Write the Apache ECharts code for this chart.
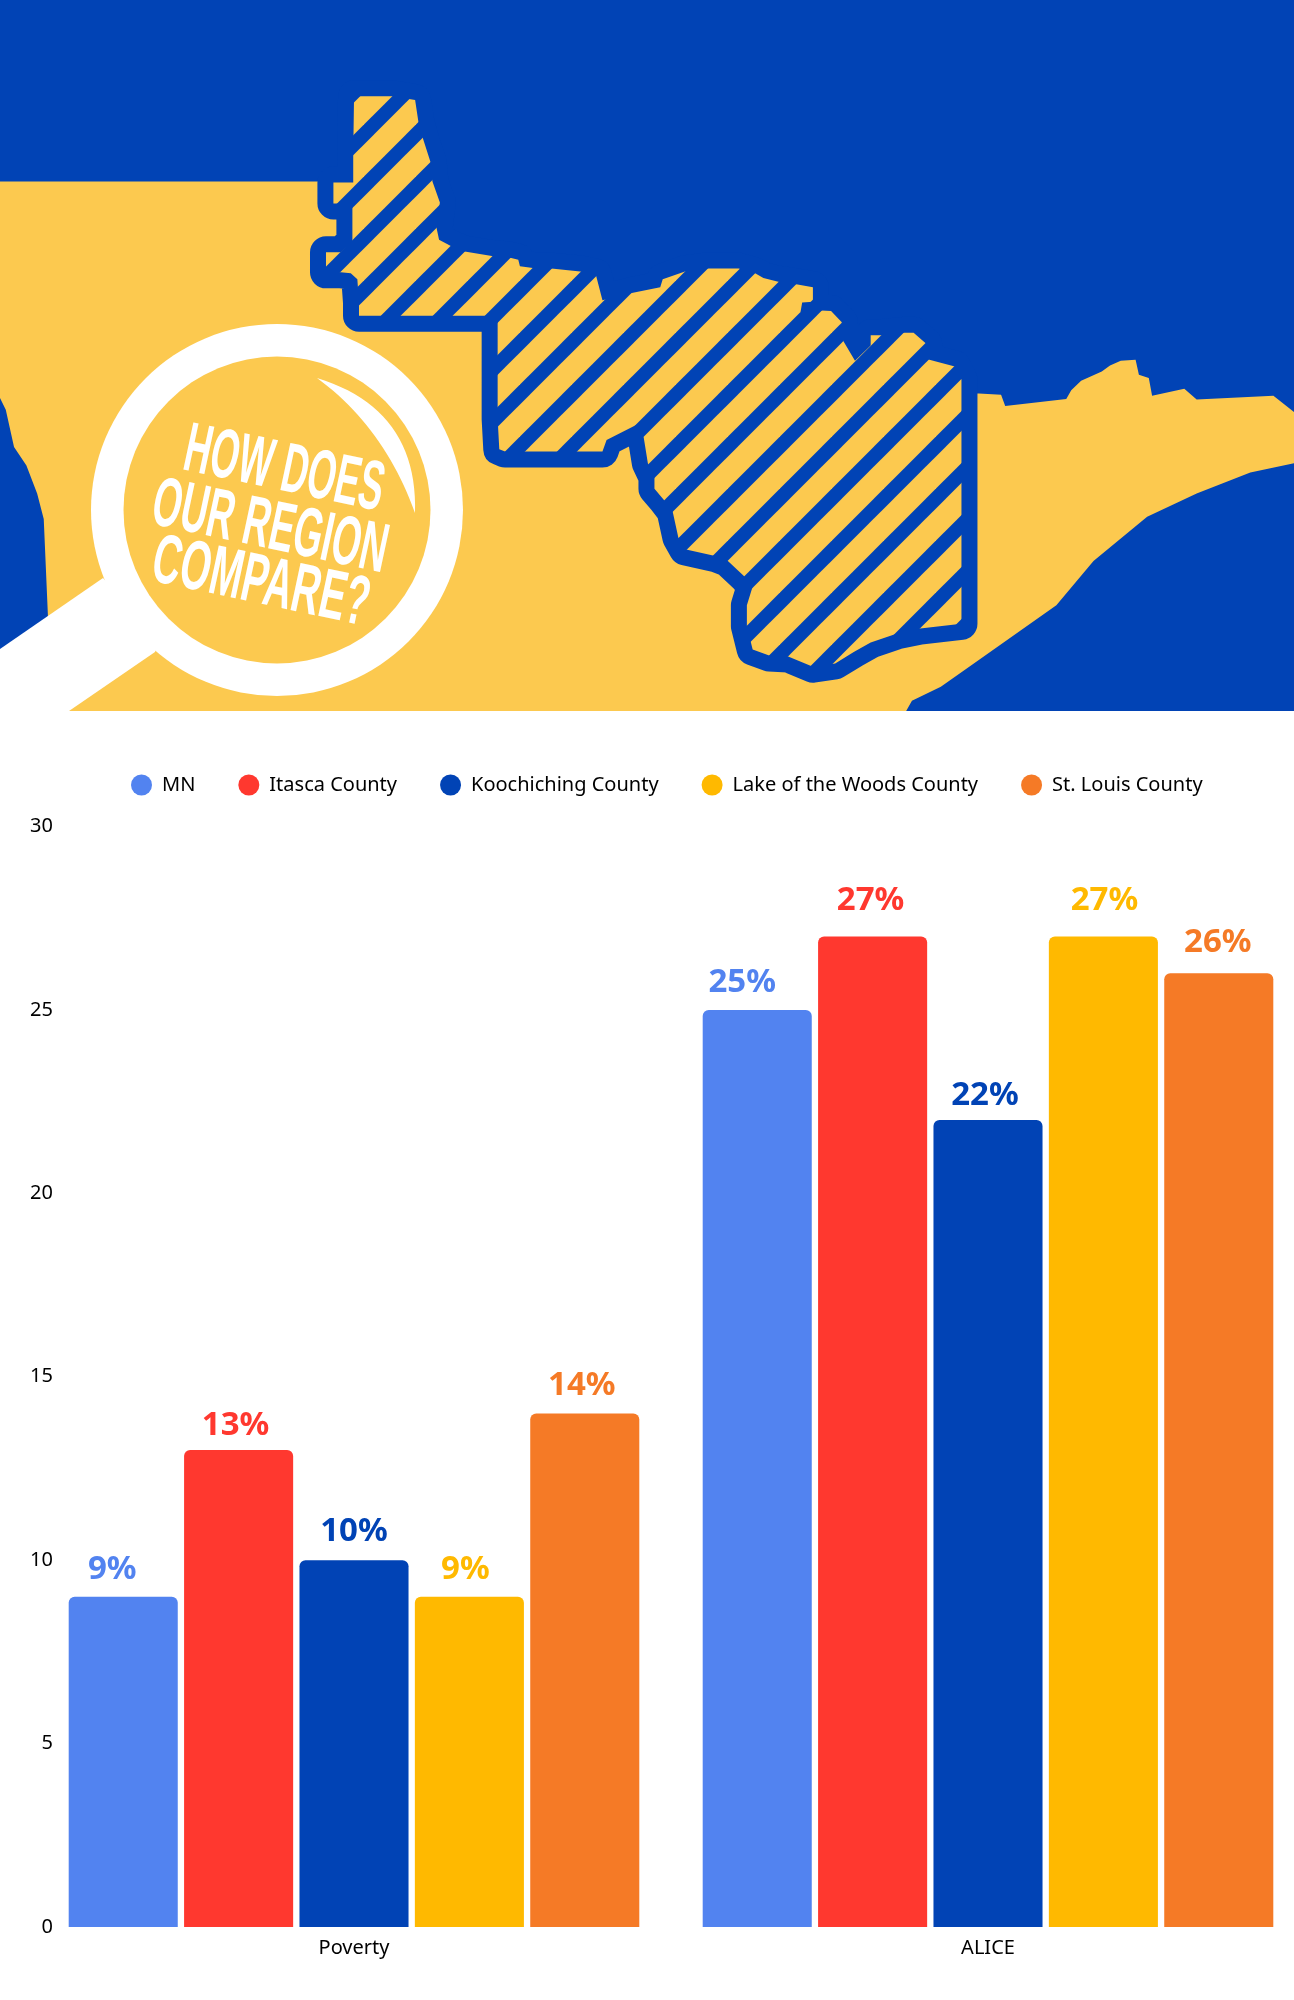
<!DOCTYPE html>
<html>
<head>
<meta charset="utf-8">
<title>How does our region compare?</title>
<script src="https://cdn.jsdelivr.net/npm/echarts@6/dist/echarts.min.js"></script>
<style>
  html, body { margin: 0; background: #fff; }
  #chart { width: 1294px; height: 2000px; }
</style>
</head>
<body>
<div id="chart"></div>
<script>
// chart data
const categories = ['Poverty', 'ALICE'];
const seriesNames = ['MN', 'Itasca County', 'Koochiching County', 'Lake of the Woods County', 'St. Louis County'];
const mnValues = [9, 25];
const itascaValues = [13, 27];
const koochichingValues = [10, 22];
const lakeValues = [9, 27];
const stLouisValues = [14, 26];
const yTicks = [0, 5, 10, 15, 20, 25, 30];

const seriesColors = ['#5283F0', '#FF382F', '#0143B5', '#FFB900', '#F57A26'];
const BLUE = '#0143B5';
const SAND = '#FCC94F';
const FONT = '"Noto Sans", sans-serif';

// labels in the picture sit a bit off-centre, hand placed: [dx, dy] per category
const labelNudge = [
  [[-11, 0], [-15, 0]],
  [[-3, 3], [-2, -8]],
  [[0, -1], [-3, 3]],
  [[-4, 0], [1, -8]],
  [[-3, 0], [-1, -3]]
];

// banner outlines, traced on a 1568x1568 crop of the top 730px
const landOutline = [
  [0, 390], [400, 390], [410, 400], [500, 640], [1100, 800], [1170, 845], [1186, 845], [1213, 848], [1218, 872],
  [1292, 857], [1298, 838], [1310, 818], [1335, 798], [1345, 785], [1358, 775], [1376, 773], [1380, 805],
  [1392, 812], [1396, 850], [1435, 835], [1450, 858], [1543, 850], [1568, 885], [1568, 995], [1515, 1015],
  [1450, 1060], [1390, 1110], [1325, 1205], [1280, 1300], [1180, 1425], [1140, 1475], [1105, 1505], [1098, 1527],
  [58, 1527], [58, 1320], [53, 1115], [45, 1060], [32, 1000], [17, 960], [7, 880], [0, 855]
];
const countyOutline = [
  [429, 207], [475, 207], [503, 215], [507, 262], [512, 295], [522, 350], [524, 390], [533, 435], [529, 490],
  [532, 515], [548, 530], [563, 540], [596, 550], [617, 553], [628, 558], [630, 572], [648, 576], [668, 577],
  [703, 583], [722, 590], [730, 645], [764, 630], [800, 617], [803, 600], [830, 583], [855, 577], [895, 577],
  [915, 587], [925, 597], [943, 605], [963, 610], [985, 617], [985, 648], [972, 650], [970, 670], [995, 667],
  [1007, 668], [1020, 692], [1022, 733], [1036, 775], [1055, 742], [1055, 720], [1067, 720], [1095, 715],
  [1107, 715], [1122, 738], [1125, 772], [1157, 787], [1165, 815], [1165, 1340], [1115, 1350], [1088, 1360],
  [1055, 1380], [1035, 1400], [1012, 1425], [985, 1432], [955, 1410], [932, 1408], [912, 1395], [905, 1345],
  [905, 1300], [912, 1260], [903, 1240], [882, 1205], [868, 1195], [830, 1180], [822, 1155], [815, 1098],
  [805, 1075], [793, 1050], [793, 1025], [785, 995], [780, 940], [772, 912], [735, 945], [730, 970], [612, 970],
  [605, 965], [603, 900], [603, 690], [590, 678], [435, 678], [435, 650], [433, 600], [425, 587], [413, 585],
  [395, 585], [395, 542], [413, 542], [427, 520], [427, 437], [404, 437], [404, 392], [428, 392], [428, 330]
];
const traced = pts => pts.map(([x, y]) => [x / 1.2117, y / 2.148]);

// headline lines: text, left-middle anchor, horizontal squeeze
const headlineLines = [
  ['HOW DOES', 185, 450, 0.52],
  ['OUR REGION', 153, 504, 0.529],
  ['COMPARE?', 153, 561, 0.557]
];

// 45 degree stripes for the county
const makeStripes = () => {
  const size = 52;
  const tile = document.createElement('canvas');
  tile.width = size;
  tile.height = size;
  const ctx = tile.getContext('2d');
  ctx.fillStyle = SAND;
  ctx.fillRect(0, 0, size, size);
  ctx.strokeStyle = BLUE;
  ctx.lineWidth = 14;
  for (let k = -2; k < 5; k++) {
    const c = 30.5 + size * k;
    ctx.beginPath();
    ctx.moveTo(c + 3 * size, -3 * size);
    ctx.lineTo(c - 3 * size, 3 * size);
    ctx.stroke();
  }
  return tile;
};

// crescent highlight of the lens, two quadratic curves
const quad = (a, c, b, t) => [
  (1 - t) * (1 - t) * a[0] + 2 * t * (1 - t) * c[0] + t * t * b[0],
  (1 - t) * (1 - t) * a[1] + 2 * t * (1 - t) * c[1] + t * t * b[1]
];
const makeCrescent = () => {
  const start = [317, 378];
  const tip = [415, 513];
  const points = [];
  for (let i = 0; i <= 24; i++) points.push(quad(start, [418, 409], tip, i / 24));
  for (let i = 24; i >= 0; i--) points.push(quad(start, [384, 427], tip, i / 24));
  return points;
};

const bannerGraphics = [
  { type: 'rect', shape: { x: 0, y: 0, width: 1294, height: 711 }, style: { fill: BLUE } },
  { type: 'polygon', shape: { points: traced(landOutline) }, style: { fill: SAND } },
  {
    type: 'polygon',
    shape: { points: traced(countyOutline) },
    style: { fill: BLUE, stroke: BLUE, lineWidth: 32, lineJoin: 'round' }
  },
  {
    type: 'polygon',
    shape: { points: traced(countyOutline) },
    style: { fill: { image: makeStripes(), repeat: 'repeat' } }
  },
  // magnifying glass
  {
    type: 'polygon',
    shape: { points: [[0, 649], [103, 578], [160, 640], [155, 652], [69, 711], [0, 711]] },
    style: { fill: '#fff' }
  },
  { type: 'circle', shape: { cx: 277, cy: 510, r: 186 }, style: { fill: '#fff' } },
  { type: 'circle', shape: { cx: 277, cy: 510, r: 153.5 }, style: { fill: SAND } },
  { type: 'polygon', shape: { points: makeCrescent() }, style: { fill: '#fff' } }
];

headlineLines.forEach(([text, x, y, squeeze]) => {
  bannerGraphics.push({
    type: 'text',
    x,
    y,
    rotation: -12 * Math.PI / 180,
    scaleX: squeeze,
    style: {
      text,
      fill: '#fff',
      font: 'bold 70px "Liberation Sans", sans-serif',
      align: 'left',
      verticalAlign: 'middle'
    }
  });
});

const seriesValues = [mnValues, itascaValues, koochichingValues, lakeValues, stLouisValues];

const chart = echarts.init(document.getElementById('chart'), null, { renderer: 'canvas' });

chart.setOption({
  animation: false,
  backgroundColor: '#fff',
  textStyle: { fontFamily: FONT },
  graphic: bannerGraphics,
  legend: {
    left: 131,
    top: 774.5,
    padding: 0,
    icon: 'circle',
    itemWidth: 21,
    itemHeight: 21,
    itemGap: 43,
    data: seriesNames,
    textStyle: { fontFamily: FONT, fontSize: 20, color: '#000', padding: [0, 0, 0, 5] }
  },
  grid: { left: 37, top: 826.5, width: 1268, height: 1100.5, outerBoundsMode: 'none' },
  xAxis: {
    type: 'category',
    data: categories,
    axisLine: { show: false },
    axisTick: { show: false },
    axisLabel: { color: '#000', fontFamily: FONT, fontSize: 20, margin: 11 }
  },
  yAxis: {
    type: 'value',
    min: yTicks[0],
    max: yTicks[yTicks.length - 1],
    interval: 5,
    splitLine: { show: false },
    axisLine: { show: false },
    axisTick: { show: false },
    axisLabel: { color: '#000', fontFamily: FONT, fontSize: 20, margin: -16 }
  },
  series: seriesNames.map((name, i) => ({
    name,
    type: 'bar',
    barGap: '5.8%',
    barCategoryGap: '10%',
    itemStyle: { color: seriesColors[i], borderRadius: [6, 6, 0, 0] },
    data: seriesValues[i].map((value, j) => ({
      value,
      label: {
        show: true,
        position: 'top',
        distance: 11,
        offset: labelNudge[i][j],
        formatter: '{c}%',
        color: seriesColors[i],
        fontFamily: FONT,
        fontWeight: 'bold',
        fontSize: 33
      }
    }))
  }))
});
</script>
</body>
</html>
